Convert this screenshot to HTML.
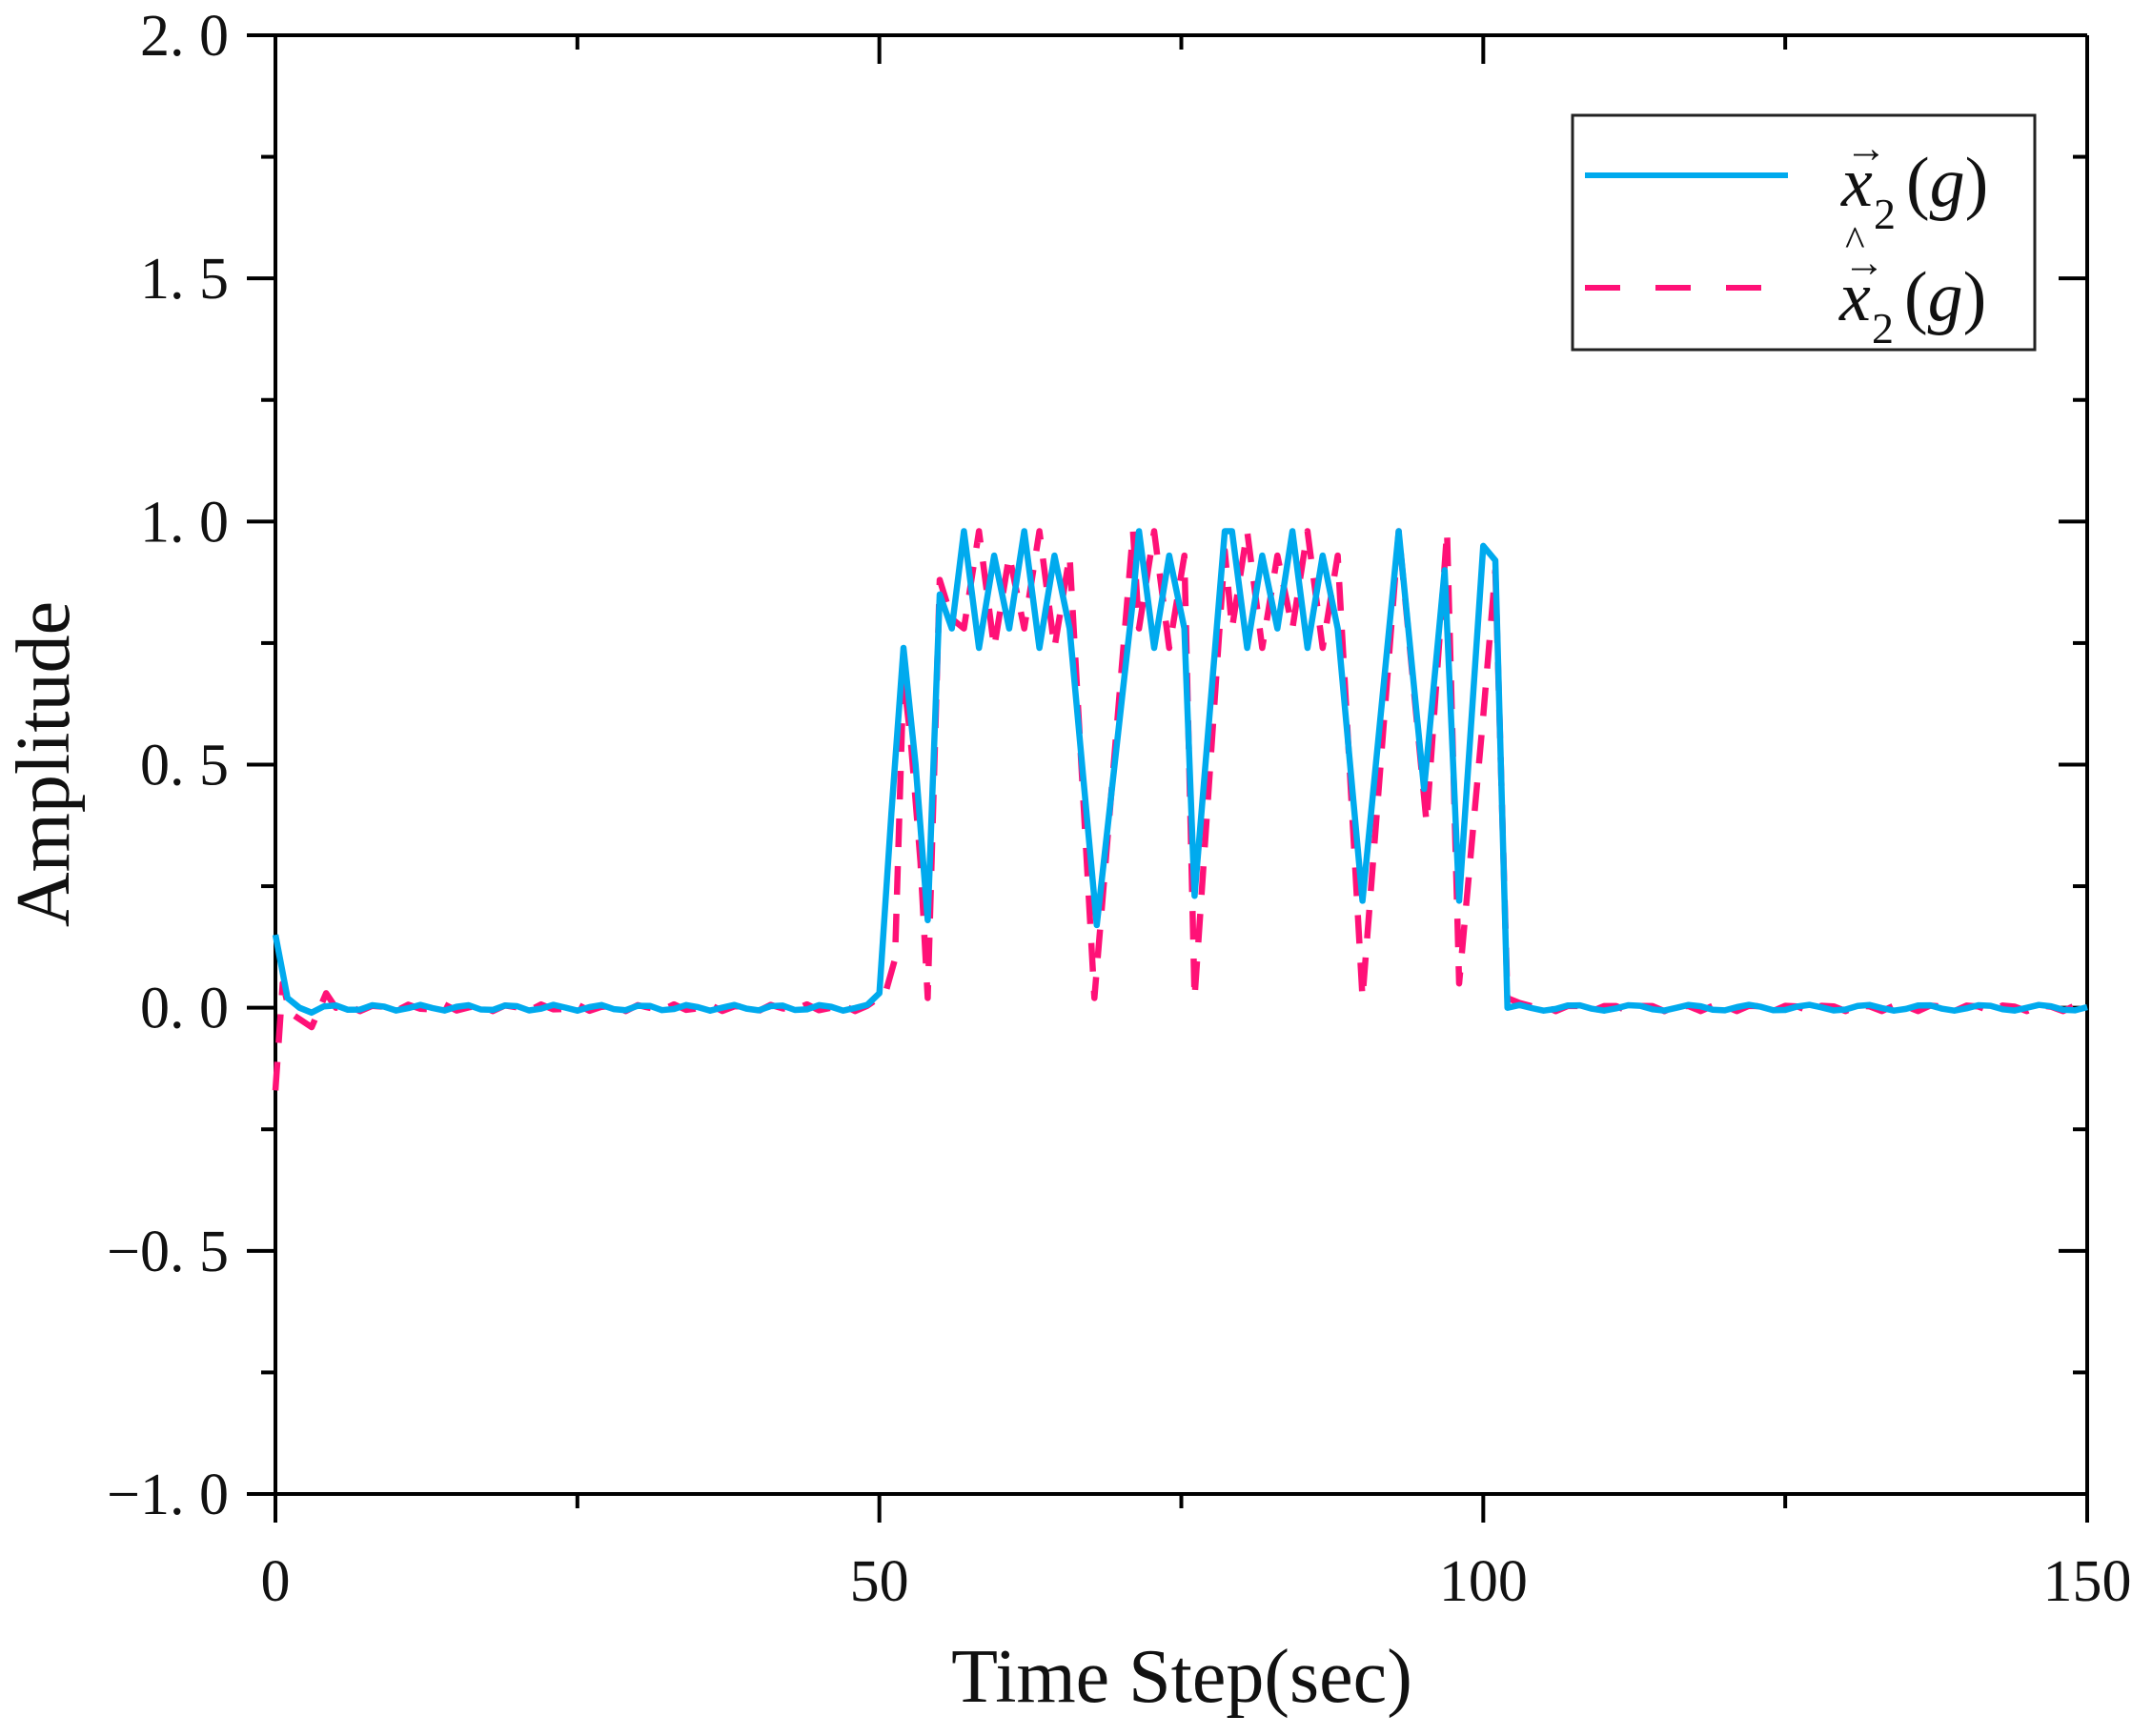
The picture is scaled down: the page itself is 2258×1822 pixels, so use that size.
<!DOCTYPE html>
<html><head><meta charset="utf-8"><style>
html,body{margin:0;padding:0;background:#fff;}
svg{display:block;}
</style></head><body>
<svg id="s" width="2258" height="1822" viewBox="0 0 2258 1822" xmlns="http://www.w3.org/2000/svg">
<g id="axes" stroke="#000" stroke-width="4" fill="none"></g>
<g id="series"></g>
<g font-family="Liberation Serif, serif" font-size="62" fill="#111" id="labels"></g>
<text x="1240" y="1786" font-family="Liberation Serif, serif" font-size="80" text-anchor="middle" fill="#111">Time Step(sec)</text>
<text transform="translate(72,802) rotate(-90)" font-family="Liberation Serif, serif" font-size="80" text-anchor="middle" fill="#111">Amplitude</text>
<rect x="1650" y="121" width="485" height="246" fill="#fff" stroke="#222" stroke-width="3"/>
<line x1="1663" y1="184" x2="1876" y2="184" stroke="#00AAEE" stroke-width="6"/>
<line x1="1663" y1="302" x2="1860" y2="302" stroke="#FF1177" stroke-width="6" stroke-dasharray="37,37"/>
<g font-family="Liberation Serif, serif" fill="#111">
<text x="1932" y="216" font-size="74" font-style="italic">x</text>
<text x="1936" y="170" font-size="44">→</text>
<text x="1966" y="240" font-size="46">2</text>
<text x="2000" y="216" font-size="74">(<tspan font-style="italic">g</tspan>)</text>
<text x="1930" y="336" font-size="74" font-style="italic">x</text>
<text x="1934" y="290" font-size="44">→</text>
<text x="1936" y="268" font-size="44">^</text>
<text x="1964" y="360" font-size="46">2</text>
<text x="1998" y="336" font-size="74">(<tspan font-style="italic">g</tspan>)</text>
</g>
</svg>
<script>
var L=289,R=2190,T=37,B=1568;
function X(t){return L+(R-L)*t/150;}
function Y(v){return B-(B-T)*(v+1)/3;}
var ax=document.getElementById('axes'),lb=document.getElementById('labels'),ns='http://www.w3.org/2000/svg';
function ln(x1,y1,x2,y2){var e=document.createElementNS(ns,'line');e.setAttribute('x1',x1);e.setAttribute('y1',y1);e.setAttribute('x2',x2);e.setAttribute('y2',y2);ax.appendChild(e);}
function tx(x,y,s,a){var e=document.createElementNS(ns,'text');e.setAttribute('x',x);e.setAttribute('y',y);e.setAttribute('text-anchor',a);e.textContent=s;lb.appendChild(e);}
ln(L,T,R,T);ln(L,B,R,B);ln(L,T,L,B);ln(R,T,R,B);
var ylab={'2':'2. 0','1.5':'1. 5','1':'1. 0','0.5':'0. 5','0':'0. 0','-0.5':'\u22120. 5','-1':'\u22121. 0'};
for(var i=0;i<=12;i++){var v=-1+i*0.25,y=Y(v),maj=(i%2==0);var len=maj?30:15;ln(L-len,y,L,y);ln(R-len,y,R,y);
 if(maj)tx(240,y+21,ylab[String(v)],'end');}
for(var t=0;t<=150;t+=25){var x=X(t),maj=t%50==0;var len=maj?30:15;ln(x,B,x,B+len);ln(x,T,x,T+len);if(maj)tx(x,1680,String(t),'middle');}
var b=[[0,0.15],[1,0.02],[2,0.0],[3,-0.01]],p=[[0,-0.17],[0.6,0.05],[1.2,-0.01],[3,-0.04],[4.2,0.03],[5,0.0]];
for(var t=4;t<=49;t++){b.push([t,0.006*Math.sin(t*1.7)]);}
for(var t=6;t<=49;t++){p.push([t,0.007*Math.sin(t*2.3+1)]);}
b.push([50,0.03],[51,0.4],[52,0.74],[53,0.5],[54,0.18],[55,0.85],[56,0.78]);
p.push([50.5,0.03],[51.3,0.1],[52,0.68],[52.6,0.55],[53.4,0.3],[54,0.02],[55,0.88],[56,0.8]);
function plat(t0,t1){var k=0;for(var t=t0;t<=t1+1e-6;t+=1.25){var ph=k%4;var vb=[0.98,0.74,0.93,0.78][ph];var vp=[0.78,0.98,0.74,0.93][ph];b.push([t,vb]);p.push([t,vp]);k++;}}
plat(57,66);
b.push([68,0.17],[71,0.84]);p.push([67.8,0.02],[71,0.98]);
plat(71.5,75.3);
b.push([76.1,0.23],[78.6,0.98]);p.push([76.1,0.02],[78.6,0.94]);
plat(79.2,89);
b.push([90,0.22],[93,0.98],[95.1,0.45],[96.8,0.9],[98,0.22],[100,0.95],[101,0.92],[102,0.0]);
p.push([90,0.02],[93,0.98],[95.3,0.38],[97,0.98],[98,0.05],[100,0.6],[101,0.9],[102,0.02],[103,0.01]);
for(var t=103;t<=150;t++){b.push([t,0.006*Math.sin(t*1.3)]);}
for(var t=104;t<=150;t++){p.push([t,0.007*Math.sin(t*2.1+2)]);}
function path(a,c,d){var s='';a.forEach(function(q,i){s+=(i?'L':'M')+X(q[0]).toFixed(1)+' '+Y(q[1]).toFixed(1);});var e=document.createElementNS(ns,'path');e.setAttribute('d',s);e.setAttribute('fill','none');e.setAttribute('stroke',c);e.setAttribute('stroke-width','6.5');e.setAttribute('stroke-linejoin','round');if(d)e.setAttribute('stroke-dasharray',d);document.getElementById('series').appendChild(e);}
path(p,'#FF1177','30,20');
path(b,'#00AAEE',null);
</script>
</body></html>
